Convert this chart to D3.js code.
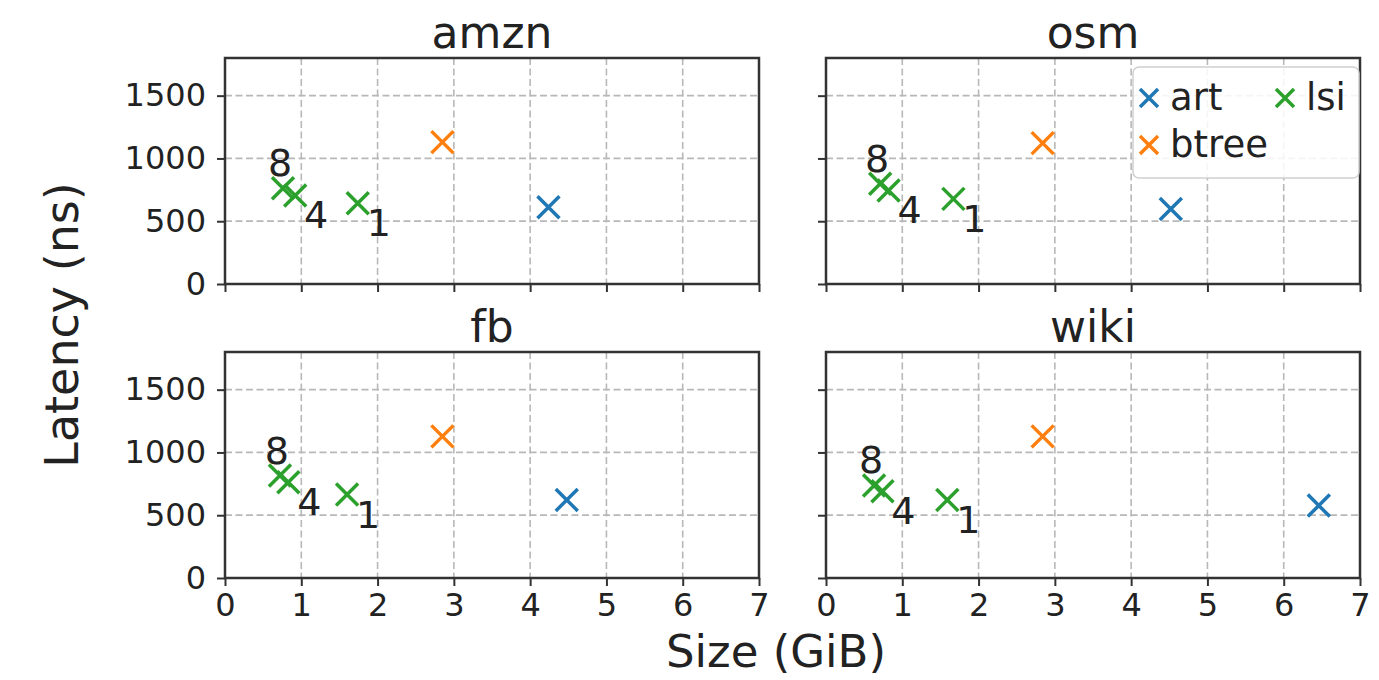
<!DOCTYPE html>
<html>
<head>
<meta charset="utf-8">
<script src="https://cdn.jsdelivr.net/npm/d3@7"></script>
<style>
  body { margin: 0; background: #fff; }
  svg { font-family: "DejaVu Sans", sans-serif; }
  .tick text { fill: #222; font-family: "DejaVu Sans", sans-serif; }
</style>
</head>
<body>
<div id="chart"></div>
<script>
// values
var datasets = ["amzn", "osm", "fb", "wiki"];
var artSize = [4.24, 4.52, 4.48, 6.46];
var artLatency = [612, 598, 622, 577];
var btreeSize = [2.85, 2.84, 2.85, 2.84];
var btreeLatency = [1130, 1122, 1128, 1128];
var lsiLabels = ["1", "4", "8"];
var lsiSize = [[1.74, 0.92, 0.76], [1.67, 0.82, 0.71], [1.60, 0.83, 0.72], [1.59, 0.74, 0.63]];
var lsiLatency = [[644, 705, 763], [678, 745, 798], [665, 763, 816], [622, 691, 737]];
var xTicks = [0, 1, 2, 3, 4, 5, 6, 7];
var yTicks = [0, 500, 1000, 1500];
var legendNames = ["art", "btree", "lsi"];
var colors = {art: "#1f77b4", btree: "#ff7f0e", lsi: "#2ca02c"};

var W = 1379, H = 680;
var pw = 534, ph = 226;
var panelX = [225, 826], panelY = [58, 352];

var svg = d3.select("#chart").append("svg")
    .attr("width", W)
    .attr("height", H);

var xScale = d3.scaleLinear().domain([0, 7]).range([0, pw]);
var yScale = d3.scaleLinear().domain([0, 1800]).range([ph, 0]);

function cross(g, cx, cy, r, color) {
  g.append("path")
    .attr("d", "M" + (cx - r) + "," + (cy - r) + "L" + (cx + r) + "," + (cy + r) +
               "M" + (cx - r) + "," + (cy + r) + "L" + (cx + r) + "," + (cy - r))
    .attr("stroke", color)
    .attr("stroke-width", 3.5)
    .attr("fill", "none");
}

datasets.forEach(function(name, i) {
  var col = i % 2, row = Math.floor(i / 2);
  var g = svg.append("g")
      .attr("transform", "translate(" + panelX[col] + "," + panelY[row] + ")");

  // grid
  g.selectAll(".vgrid").data(xTicks).enter().append("line")
      .attr("x1", d => xScale(d)).attr("x2", d => xScale(d))
      .attr("y1", 0).attr("y2", ph)
      .attr("stroke", "#b8b8b8").attr("stroke-width", 1.6)
      .attr("stroke-dasharray", "7,3.5");
  g.selectAll(".hgrid").data(yTicks).enter().append("line")
      .attr("x1", 0).attr("x2", pw)
      .attr("y1", d => yScale(d)).attr("y2", d => yScale(d))
      .attr("stroke", "#b8b8b8").attr("stroke-width", 1.8)
      .attr("stroke-dasharray", "7,3.5");

  // axes
  var xAxis = d3.axisBottom(xScale).tickValues(xTicks).tickSize(8).tickPadding(7)
      .tickFormat(row == 0 ? "" : d3.format("d"));
  var yAxis = d3.axisLeft(yScale).tickValues(yTicks).tickSize(8).tickPadding(11)
      .tickFormat(col == 1 ? "" : d3.format("d"));

  var xa = g.append("g").attr("transform", "translate(0," + ph + ")").call(xAxis);
  var ya = g.append("g").call(yAxis);
  [xa, ya].forEach(function(a) {
    a.select(".domain").remove();
    a.selectAll(".tick line").attr("stroke", "#333").attr("stroke-width", 2);
    a.selectAll(".tick text").style("font-size", "32px");
  });

  // frame
  g.append("rect")
      .attr("width", pw).attr("height", ph)
      .attr("fill", "none")
      .attr("stroke", "#333").attr("stroke-width", 2.5);

  // title
  g.append("text")
      .attr("x", pw / 2).attr("y", -10)
      .attr("text-anchor", "middle")
      .attr("fill", "#222")
      .style("font-size", "44px")
      .text(name);

  // points
  cross(g, xScale(artSize[i]), yScale(artLatency[i]), 11, colors.art);
  cross(g, xScale(btreeSize[i]), yScale(btreeLatency[i]), 11, colors.btree);
  lsiSize[i].forEach(function(s, j) {
    var cx = xScale(s), cy = yScale(lsiLatency[i][j]);
    cross(g, cx, cy, 11, colors.lsi);
    var lab = lsiLabels[j];
    g.append("text")
        .attr("x", lab == "8" ? cx - 3 : cx + 21)
        .attr("y", lab == "8" ? cy - 25 : cy + 20)
        .attr("text-anchor", "middle")
        .attr("dominant-baseline", "central")
        .attr("fill", "#222")
        .style("font-size", "38px")
        .text(lab);
  });

  // legend on osm panel
  if (i == 1) {
    var lg = g.append("g").attr("transform", "translate(" + (1133 - panelX[1]) + "," + (67 - panelY[0]) + ")");
    lg.append("rect")
        .attr("width", 226).attr("height", 111)
        .attr("rx", 6)
        .attr("fill", "#fff").attr("fill-opacity", 0.85)
        .attr("stroke", "#d0d0d0").attr("stroke-width", 1.5);
    var pos = {art: [16, 31], btree: [16, 78], lsi: [152, 31]};
    legendNames.forEach(function(n) {
      var p = pos[n];
      cross(lg, p[0], p[1], 9, colors[n]);
      lg.append("text")
          .attr("x", p[0] + 21).attr("y", p[1] + 12)
          .attr("fill", "#222")
          .style("font-size", "37px")
          .text(n);
    });
  }
});

// shared axis labels
svg.append("text")
    .attr("transform", "translate(62,325) rotate(-90)")
    .attr("text-anchor", "middle")
    .attr("dominant-baseline", "central")
    .attr("fill", "#222")
    .style("font-size", "46px")
    .text("Latency (ns)");

svg.append("text")
    .attr("x", 776).attr("y", 667)
    .attr("text-anchor", "middle")
    .attr("fill", "#222")
    .style("font-size", "45px")
    .text("Size (GiB)");
</script>
</body>
</html>
